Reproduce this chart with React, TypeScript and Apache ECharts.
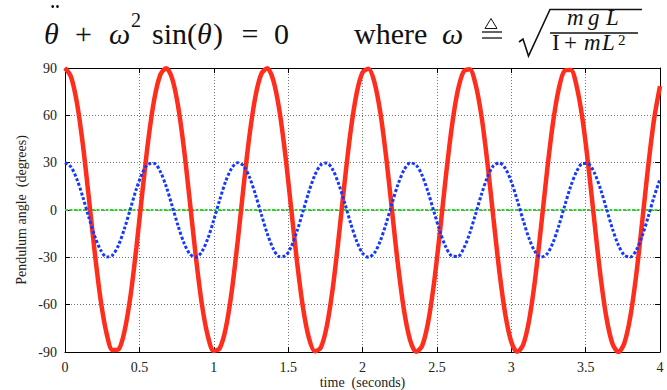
import React, { useEffect, useRef } from "react";
import * as echarts from "echarts";

// sample times (seconds)
const times = [
  0, 0.04, 0.08, 0.12, 0.16, 0.2, 0.24, 0.28, 0.32, 0.36, 0.4, 0.44, 0.48, 0.52, 0.56, 0.6, 0.64, 0.68, 0.72, 0.76,
  0.8, 0.84, 0.88, 0.92, 0.96, 1, 1.04, 1.08, 1.12, 1.16, 1.2, 1.24, 1.28, 1.32, 1.36, 1.4, 1.44, 1.48, 1.52, 1.56,
  1.6, 1.64, 1.68, 1.72, 1.76, 1.8, 1.84, 1.88, 1.92, 1.96, 2, 2.04, 2.08, 2.12, 2.16, 2.2, 2.24, 2.28, 2.32, 2.36,
  2.4, 2.44, 2.48, 2.52, 2.56, 2.6, 2.64, 2.68, 2.72, 2.76, 2.8, 2.84, 2.88, 2.92, 2.96, 3, 3.04, 3.08, 3.12, 3.16,
  3.2, 3.24, 3.28, 3.32, 3.36, 3.4, 3.44, 3.48, 3.52, 3.56, 3.6, 3.64, 3.68, 3.72, 3.76, 3.8, 3.84, 3.88, 3.92, 3.96, 4,
];

// large swing (90 deg start), degrees
const redAngles = [
  90.0, 84.5, 68.1, 41.6, 8.0, -26.9, -57.2, -78.4, -88.8, -88.3, -76.9, -54.7, -23.8, 11.3, 44.4, 70.1, 85.5, 89.9, 83.4, 66.0,
  38.7, 4.8, -30.0, -59.6, -79.8, -89.3, -87.7, -75.3, -52.2, -20.7, 14.5, 47.1, 71.9, 86.3, 89.8, 82.3, 63.9, 35.8, 1.5, -33.0,
  -61.9, -81.2, -89.6, -87.1, -73.6, -49.6, -17.5, 17.7, 49.8, 73.7, 87.1, 89.6, 81.1, 61.7, 32.8, -1.8, -36.0, -64.1, -82.4, -89.8,
  -86.3, -71.8, -46.9, -14.3, 20.9, 52.4, 75.4, 87.8, 89.2, 79.7, 59.4, 29.8, -5.0, -38.9, -66.2, -83.5, -89.9, -85.4, -69.9, -44.2,
  -11.0, 24.1, 54.9, 77.0, 88.4, 88.8, 78.3, 57.0, 26.7, -8.3, -41.8, -68.3, -84.6, -90.0, -84.4, -67.9, -41.3, -7.8, 27.2, 57.4, 78.5,
];

// small swing (30 deg start), degrees
const blueAngles = [
  30.0, 27.3, 19.5, 8.2, -4.6, -16.6, -25.5, -29.8, -28.6, -22.2, -11.7, 0.9, 13.4, 23.4, 29.1, 29.5, 24.5, 15.0, 2.7, -10.0,
  -20.9, -28.0, -29.9, -26.4, -18.1, -6.4, 6.4, 18.1, 26.4, 30.0, 28.0, 20.9, 9.9, -2.8, -15.0, -24.5, -29.5, -29.1, -23.3, -13.3,
  -0.9, 11.7, 22.2, 28.6, 29.8, 25.5, 16.5, 4.6, -8.3, -19.6, -27.3, -30.0, -27.2, -19.5, -8.2, 4.7, 16.6, 25.5, 29.8, 28.6,
  22.1, 11.6, -1.0, -13.4, -23.4, -29.1, -29.5, -24.4, -14.9, -2.7, 10.0, 20.9, 28.0, 29.9, 26.4, 18.0, 6.3, -6.5, -18.1, -26.5,
  -29.9, -27.9, -20.8, -9.9, 2.9, 15.1, 24.5, 29.5, 29.1, 23.3, 13.3, 0.8, -11.8, -22.2, -28.6, -29.8, -25.5, -16.5, -4.5, 8.3, 19.6,
];

const zeroLevel = 0;
const xAxisTitle = "time  (seconds)";
const yAxisTitle = "Pendulum angle  (degrees)";

const SERIF = "Liberation Serif";

function txt(text: string, x: number, y: number, size: number, opts: any = {}) {
  const style: any = {
    text,
    fontSize: size,
    fontFamily: SERIF,
    fill: "#111",
    textAlign: opts.align || "left",
    textVerticalAlign: "middle",
  };
  if (opts.italic) style.fontStyle = "italic";
  return { type: "text", x, y, silent: true, style };
}

export default function App() {
  const ref = useRef<HTMLDivElement>(null);

  useEffect(() => {
    document.body.style.margin = "0";
    if (!ref.current) return;
    const chart = echarts.init(ref.current, undefined, { renderer: "svg" });

    const red = times.map((t, i) => [t, redAngles[i]]);
    const blue = times.map((t, i) => [t, blueAngles[i]]);

    const axisFont = { fontFamily: SERIF, fontSize: 14, color: "#222" };
    const splitLine = { show: true, lineStyle: { color: "#777", type: [1, 2], width: 1 } };
    const axisLine = { show: true, onZero: false, lineStyle: { color: "#000", width: 1 } };
    const tick = { show: true, inside: true, length: 5, lineStyle: { color: "#000" } };

    const mainY = 33;
    const graphic: any[] = [
      txt("θ", 44, mainY, 30, { italic: true }),
      { type: "circle", silent: true, shape: { cx: 52.7, cy: 6.5, r: 1.4 }, style: { fill: "#111" } },
      { type: "circle", silent: true, shape: { cx: 57.5, cy: 6.5, r: 1.4 }, style: { fill: "#111" } },
      txt("+", 83.5, mainY, 30, { align: "center" }),
      txt("ω", 109, mainY, 30, { italic: true }),
      txt("2", 131, 20, 20),
      txt("sin(", 152, mainY, 30),
      txt("θ", 197, mainY, 30, { italic: true }),
      txt(")", 213, mainY, 30),
      txt("=", 250, mainY, 30, { align: "center" }),
      txt("0", 281.5, mainY, 30, { align: "center" }),
      txt("where", 354, mainY, 30),
      txt("ω", 442, mainY, 30, { italic: true }),
      // ≜
      { type: "line", silent: true, shape: { x1: 482, y1: 32, x2: 502, y2: 32 }, style: { stroke: "#111", lineWidth: 1.3 } },
      { type: "line", silent: true, shape: { x1: 482, y1: 38, x2: 502, y2: 38 }, style: { stroke: "#111", lineWidth: 1.3 } },
      { type: "polygon", silent: true, shape: { points: [[485, 28.5], [497, 28.5], [491, 18.5]] }, style: { fill: "none", stroke: "#111", lineWidth: 1 } },
      // radical
      { type: "polyline", silent: true, shape: { points: [[519, 42], [523, 39], [528.5, 56], [550, 9.5], [642, 9.5]] }, style: { stroke: "#111", lineWidth: 1.6, fill: "none" } },
      // numerator
      txt("m", 567, 17.6, 23, { italic: true }),
      txt("g", 588, 17.6, 23, { italic: true }),
      txt("L", 606, 17.6, 23, { italic: true }),
      // fraction bar
      { type: "line", silent: true, shape: { x1: 550, y1: 33, x2: 638, y2: 33 }, style: { stroke: "#111", lineWidth: 1.4 } },
      // denominator
      txt("I", 552, 42.6, 23),
      txt("+", 570.5, 42.6, 23, { align: "center" }),
      txt("m", 584, 42.6, 23, { italic: true }),
      txt("L", 602, 42.6, 23, { italic: true }),
      txt("2", 618, 39.5, 15),
    ];

    chart.setOption({
      animation: false,
      backgroundColor: "#fff",
      textStyle: { fontFamily: SERIF },
      grid: { left: 65, right: 7, top: 68, bottom: 38, containLabel: false, outerBoundsMode: "none" },
      graphic,
      xAxis: [
        {
          type: "value",
          min: 0,
          max: 4,
          interval: 0.5,
          position: "bottom",
          axisLine,
          axisTick: tick,
          splitLine,
          axisLabel: { ...axisFont, margin: 8 },
          name: xAxisTitle,
          nameLocation: "middle",
          nameGap: 23,
          nameMoveOverlap: false,
          nameTextStyle: { fontFamily: SERIF, fontSize: 14, color: "#222" },
        },
        {
          type: "value",
          min: 0,
          max: 4,
          interval: 0.5,
          position: "top",
          axisLine,
          axisTick: tick,
          splitLine: { show: false },
          axisLabel: { show: false },
        },
      ],
      yAxis: [
        {
          type: "value",
          min: -90,
          max: 90,
          interval: 30,
          position: "left",
          axisLine,
          axisTick: tick,
          splitLine,
          axisLabel: { ...axisFont, margin: 8 },
          name: yAxisTitle,
          nameLocation: "middle",
          nameGap: 37,
          nameMoveOverlap: false,
          nameTextStyle: { fontFamily: SERIF, fontSize: 14, color: "#222" },
        },
        {
          type: "value",
          min: -90,
          max: 90,
          interval: 30,
          position: "right",
          axisLine,
          axisTick: tick,
          splitLine: { show: false },
          axisLabel: { show: false },
        },
      ],
      series: [
        {
          name: "zero",
          type: "line",
          data: [],
          silent: true,
          markLine: {
            z: 1,
            silent: true,
            symbol: "none",
            label: { show: false },
            lineStyle: { color: "#2fd12f", width: 2, type: [3, 1.5] },
            data: [{ yAxis: zeroLevel }],
          },
        },
        {
          name: "large",
          type: "line",
          data: red,
          showSymbol: false,
          smooth: 0.3,
          z: 2,
          lineStyle: { color: "#ff2d1c", width: 4.5 },
        },
        {
          name: "small",
          type: "line",
          data: blue,
          showSymbol: false,
          smooth: 0.3,
          z: 3,
          lineStyle: { color: "#1438ff", width: 3, type: [3, 2] },
        },
      ],
    });

    return () => chart.dispose();
  }, []);

  return <div ref={ref} style={{ width: 667, height: 390, background: "#fff" }} />;
}
